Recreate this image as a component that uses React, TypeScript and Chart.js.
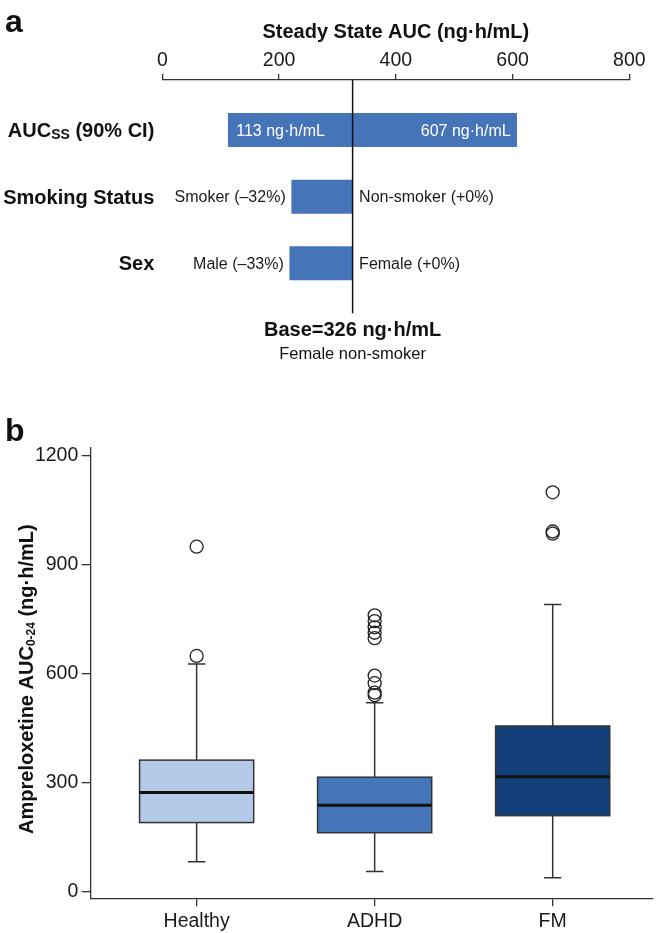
import React, { useEffect, useRef } from 'react';
import { Chart, registerables } from 'chart.js';

Chart.register(...registerables);

const FONT = '"Liberation Sans", Arial, Helvetica, sans-serif';

// ---------- Panel a: tornado chart ----------
const factorMain = ['AUC', 'Smoking Status', 'Sex'];
const factorSub = ['SS', '', ''];
const factorRest = [' (90% CI)', '', ''];
const lowValues = [113, 221.7, 218.4];
const highValues = [607, 326, 326];
const lowLabels = ['113 ng·h/mL', 'Smoker (–32%)', 'Male (–33%)'];
const highLabels = ['607 ng·h/mL', 'Non-smoker (+0%)', 'Female (+0%)'];
const labelsInside = [true, false, false];
const baseValue = 326;
const baseCaption = 'Female non-smoker';
const aucTicks = [0, 200, 400, 600, 800];
const aucAxisTitle = 'Steady State AUC (ng·h/mL)';

// ---------- Panel b: box plot ----------
const groups = ['Healthy', 'ADHD', 'FM'];
const whiskerLow = [82, 55, 38];
const q1 = [190, 162, 209];
const medians = [273, 238, 316];
const q3 = [362, 315, 456];
const whiskerHigh = [627, 520, 791];
const outliersHealthy = [649, 950];
const outliersADHD = [541, 548, 574, 595, 698, 713, 728, 745, 761];
const outliersFM = [986, 992, 1100];
const yTicksB = [0, 300, 600, 900, 1200];

const BAR_BLUE = '#4674B8';
const boxColors = ['#B3C9E8', '#4674B8', '#123F78'];
const BOX_W = 0.641;
const CAP_W = 0.098;

function drawRich(ctx: CanvasRenderingContext2D, parts: { t: string; f: string; dy: number }[], x: number, y: number, align: 'left' | 'right' | 'center') {
  let total = 0;
  const widths = parts.map((p) => {
    ctx.font = p.f;
    const w = ctx.measureText(p.t).width;
    total += w;
    return w;
  });
  let cx = align === 'left' ? x : align === 'right' ? x - total : x - total / 2;
  ctx.textAlign = 'left';
  ctx.textBaseline = 'alphabetic';
  parts.forEach((p, i) => {
    if (!p.t) return;
    ctx.font = p.f;
    ctx.fillText(p.t, cx, y + p.dy);
    cx += widths[i];
  });
}

const panelAPlugin = {
  id: 'panelA',
  afterDatasetsDraw(chart: any) {
    const { ctx, chartArea: ca, scales } = chart;
    const x = scales.x;
    const y = scales.y;
    ctx.save();
    // base line
    const bx = x.getPixelForValue(baseValue);
    ctx.strokeStyle = '#111';
    ctx.lineWidth = 1.5;
    ctx.beginPath();
    ctx.moveTo(bx, ca.top);
    ctx.lineTo(bx, ca.bottom);
    ctx.stroke();

    factorMain.forEach((_, i) => {
      const yc = y.getPixelForValue(i);
      const xl = x.getPixelForValue(lowValues[i]);
      const xh = x.getPixelForValue(highValues[i]);
      ctx.font = `16px ${FONT}`;
      ctx.textBaseline = 'alphabetic';
      const by = yc + 5.7;
      if (labelsInside[i]) {
        ctx.fillStyle = '#ffffff';
        ctx.textAlign = 'left';
        ctx.fillText(lowLabels[i], xl + 8, by);
        ctx.textAlign = 'right';
        ctx.fillText(highLabels[i], xh - 6, by);
      } else {
        ctx.fillStyle = '#1a1a1a';
        ctx.textAlign = 'right';
        ctx.fillText(lowLabels[i], xl - 6, by);
        ctx.textAlign = 'left';
        ctx.fillText(highLabels[i], xh + 6.5, by);
      }
      ctx.fillStyle = '#111';
      drawRich(
        ctx,
        [
          { t: factorMain[i], f: `bold 20px ${FONT}`, dy: 0 },
          { t: factorSub[i], f: `bold 14px ${FONT}`, dy: 2 },
          { t: factorRest[i], f: `bold 20px ${FONT}`, dy: 0 },
        ],
        ca.left - 8,
        yc + 7,
        'right'
      );
    });

    // base captions
    ctx.fillStyle = '#111';
    ctx.textAlign = 'center';
    ctx.textBaseline = 'alphabetic';
    ctx.font = `bold 20px ${FONT}`;
    ctx.fillText(`Base=${baseValue} ng·h/mL`, bx, 335.5);
    ctx.font = `16.5px ${FONT}`;
    ctx.fillText(baseCaption, bx, 358.5);

    // panel letter
    ctx.textAlign = 'left';
    ctx.font = `bold 32px ${FONT}`;
    ctx.fillText('a', 5, 32);
    ctx.restore();
  },
};

const panelBPlugin = {
  id: 'panelB',
  beforeDatasetsDraw(chart: any) {
    const { ctx, scales } = chart;
    const x = scales.x;
    const y = scales.y;
    ctx.save();
    groups.forEach((_, i) => {
      const xc = x.getPixelForValue(i + 1);
      const hw = x.getPixelForValue(i + 1 + BOX_W / 2) - xc;
      const cw = x.getPixelForValue(i + 1 + CAP_W / 2) - xc;
      const py = (v: number) => y.getPixelForValue(v);
      ctx.strokeStyle = '#333';
      ctx.lineWidth = 1.5;
      ctx.beginPath();
      ctx.moveTo(xc, py(q3[i]));
      ctx.lineTo(xc, py(whiskerHigh[i]));
      ctx.moveTo(xc - cw, py(whiskerHigh[i]));
      ctx.lineTo(xc + cw, py(whiskerHigh[i]));
      ctx.moveTo(xc, py(q1[i]));
      ctx.lineTo(xc, py(whiskerLow[i]));
      ctx.moveTo(xc - cw, py(whiskerLow[i]));
      ctx.lineTo(xc + cw, py(whiskerLow[i]));
      ctx.stroke();
      const top = py(q3[i]);
      const bot = py(q1[i]);
      ctx.fillStyle = boxColors[i];
      ctx.fillRect(xc - hw, top, 2 * hw, bot - top);
      ctx.strokeRect(xc - hw, top, 2 * hw, bot - top);
      ctx.strokeStyle = '#111';
      ctx.lineWidth = 3;
      ctx.beginPath();
      ctx.moveTo(xc - hw, py(medians[i]));
      ctx.lineTo(xc + hw, py(medians[i]));
      ctx.stroke();
    });
    ctx.restore();
  },
  afterDraw(chart: any) {
    const { ctx, chartArea: ca } = chart;
    ctx.save();
    ctx.fillStyle = '#111';
    ctx.font = `bold 32px ${FONT}`;
    ctx.textAlign = 'left';
    ctx.textBaseline = 'alphabetic';
    ctx.fillText('b', 5, 71);
    ctx.translate(33, (ca.top + ca.bottom) / 2 + 6);
    ctx.rotate(-Math.PI / 2);
    drawRich(
      ctx,
      [
        { t: 'Ampreloxetine AUC', f: `bold 20px ${FONT}`, dy: 0 },
        { t: '0-24', f: `bold 12px ${FONT}`, dy: 2 },
        { t: ' (ng·h/mL)', f: `bold 20px ${FONT}`, dy: 0 },
      ],
      0,
      0,
      'center'
    );
    ctx.restore();
  },
};

export default function App() {
  const refA = useRef<HTMLCanvasElement>(null);
  const refB = useRef<HTMLCanvasElement>(null);

  useEffect(() => {
    const axisColor = '#333';
    const chartA = new Chart(refA.current as HTMLCanvasElement, {
      type: 'bar',
      data: {
        datasets: [
          {
            data: factorMain.map((_, i) => ({ x: [lowValues[i], highValues[i]], y: i })) as any,
            backgroundColor: BAR_BLUE,
            borderWidth: 0,
            barThickness: 33.3,
          } as any,
        ],
      },
      options: {
        indexAxis: 'y',
        responsive: false,
        animation: false,
        events: [],
        layout: { padding: { left: 162.3, right: 30.7, top: 0, bottom: 56.7 } },
        plugins: { legend: { display: false }, tooltip: { enabled: false } },
        scales: {
          x: {
            type: 'linear',
            position: 'top',
            min: 0,
            max: 800,
            afterBuildTicks: (s: any) => {
              s.ticks = aucTicks.map((v) => ({ value: v }));
            },
            afterFit: (s: any) => {
              s.height = 80;
            },
            ticks: {
              callback: (v: any) => String(v),
              font: { family: FONT, size: 19.5 },
              color: '#1a1a1a',
              padding: 2,
              maxRotation: 0,
              autoSkip: false,
            },
            grid: { display: true, drawOnChartArea: false, drawTicks: true, tickLength: 6, color: axisColor, lineWidth: 1.3 },
            border: { display: true, color: axisColor, width: 1.3 },
            title: {
              display: true,
              text: aucAxisTitle,
              font: { family: FONT, size: 20, weight: 'bold' },
              color: '#111',
              padding: { top: 20.5, bottom: 0 },
            },
          } as any,
          y: {
            type: 'linear',
            min: -0.75,
            max: 2.75,
            reverse: true,
            display: false,
            offset: false,
          } as any,
        },
      },
      plugins: [panelAPlugin],
    });

    const outlierPoints = [
      ...outliersHealthy.map((v) => ({ x: 1, y: v })),
      ...outliersADHD.map((v) => ({ x: 2, y: v })),
      ...outliersFM.map((v) => ({ x: 3, y: v })),
    ];

    const chartB = new Chart(refB.current as HTMLCanvasElement, {
      type: 'scatter',
      data: {
        datasets: [
          {
            data: outlierPoints,
            pointRadius: 6.5,
            pointBorderWidth: 1.3,
            pointBorderColor: '#222',
            pointBackgroundColor: 'rgba(0,0,0,0)',
            showLine: false,
          } as any,
        ],
      },
      options: {
        responsive: false,
        animation: false,
        events: [],
        layout: { padding: { left: 0, right: 4, top: 78, bottom: 0 } },
        plugins: { legend: { display: false }, tooltip: { enabled: false } },
        scales: {
          x: {
            type: 'linear',
            min: 0.405,
            max: 3.559,
            afterBuildTicks: (s: any) => {
              s.ticks = groups.map((_, i) => ({ value: i + 1 }));
            },
            afterFit: (s: any) => {
              s.height = 34.7;
            },
            ticks: {
              callback: (_v: any, i: number) => groups[i],
              font: { family: FONT, size: 19.5 },
              color: '#1a1a1a',
              padding: 4,
              maxRotation: 0,
              autoSkip: false,
            },
            grid: { display: true, drawOnChartArea: false, drawTicks: true, tickLength: 8, color: axisColor, lineWidth: 1.3 },
            border: { display: true, color: axisColor, width: 1.3 },
          } as any,
          y: {
            type: 'linear',
            min: -18.7,
            max: 1222,
            afterBuildTicks: (s: any) => {
              s.ticks = yTicksB.map((v) => ({ value: v }));
            },
            afterFit: (s: any) => {
              s.width = 90.7;
            },
            ticks: {
              callback: (v: any) => String(v),
              font: { family: FONT, size: 19.5 },
              color: '#1a1a1a',
              padding: 3.4,
              autoSkip: false,
            },
            grid: { display: true, drawOnChartArea: false, drawTicks: true, tickLength: 9, color: axisColor, lineWidth: 1.3 },
            border: { display: true, color: axisColor, width: 1.3 },
          } as any,
        },
      },
      plugins: [panelBPlugin],
    });

    return () => {
      chartA.destroy();
      chartB.destroy();
    };
  }, []);

  return (
    <div style={{ position: 'absolute', left: 0, top: 0, width: 660, height: 933, background: '#ffffff' }}>
      <canvas ref={refA} width={660} height={370} style={{ position: 'absolute', left: 0, top: 0, width: 660, height: 370 }} />
      <canvas ref={refB} width={660} height={563} style={{ position: 'absolute', left: 0, top: 370, width: 660, height: 563 }} />
    </div>
  );
}
